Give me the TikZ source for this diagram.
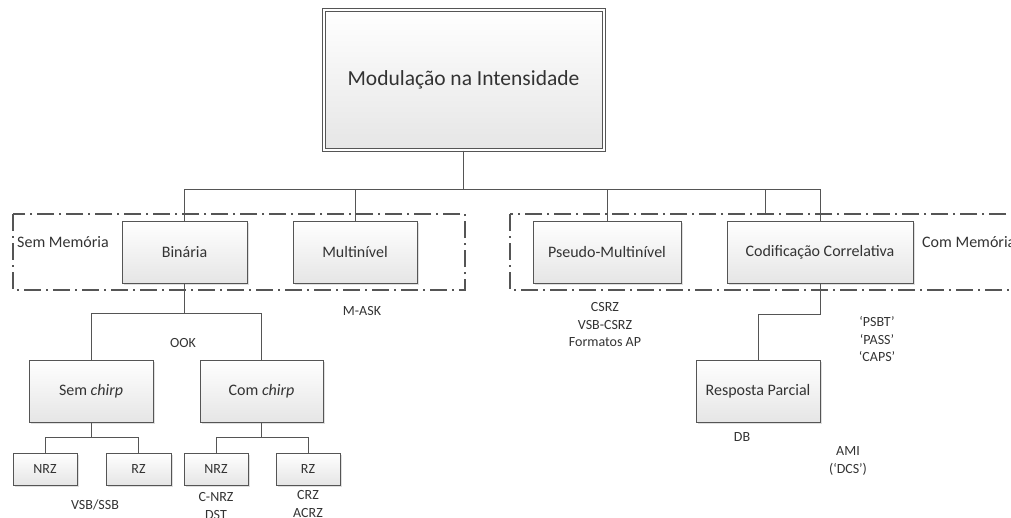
\documentclass[tikz,border=0pt]{standalone}
\usepackage{fontspec}
\setmainfont{Carlito}
\usetikzlibrary{shadows}
\definecolor{linegray}{HTML}{555555}
\definecolor{txtgray}{HTML}{333333}
\tikzset{
  caixa/.style={draw=linegray, line width=1pt, top color=white, bottom color=gray!20,
    drop shadow={shadow xshift=1.5pt, shadow yshift=-1.5pt, opacity=0.25},
    text=txtgray, inner sep=0pt, font=\fontsize{16}{19}\selectfont},
  caixinha/.style={caixa, minimum width=64pt, minimum height=32pt, font=\fontsize{14}{17}\selectfont},
  rotulo/.style={text=txtgray, inner sep=0pt, align=center, font=\fontsize{14}{17.5}\selectfont},
  ligacao/.style={draw=linegray, line width=1pt},
  moldura/.style={draw=linegray, line width=1.4pt, dash pattern=on 17pt off 5pt on 2pt off 5pt}
}

\begin{document}
\begin{tikzpicture}[x=1pt,y=-1pt]
    \useasboundingbox (0,0) rectangle (1011,517);
    % molduras com/sem memoria
    \draw[moldura] (13,214) rectangle (465,290);
    \draw[moldura] (510,214) rectangle (1030,290);
    \node[rotulo, anchor=west, font=\fontsize{16}{19}\selectfont] (semmem) at (17,242) {Sem Memória};
    \node[rotulo, anchor=west, font=\fontsize{16}{19}\selectfont] (commem) at (922,242) {Com Memória};
    % caixa principal
    \node[caixa, minimum width=280pt, minimum height=140pt, double=white, double distance=2pt,
      font=\fontsize{21.5}{25}\selectfont] (topo) at (463.5,80) {Modulação na Intensidade\\[14pt]};
    % segundo nivel
    \node[caixa, minimum width=125pt, minimum height=62pt] (bin) at (184.5,252) {Binária};
    \node[caixa, minimum width=124pt, minimum height=62pt] (mul) at (355,252) {Multinível};
    \node[caixa, minimum width=148pt, minimum height=62pt] (pse) at (607,252) {Pseudo-Multinível};
    \node[caixa, minimum width=186pt, minimum height=62pt] (cod) at (820,252) {Codificação Correlativa};
    % terceiro nivel
    \node[caixa, minimum width=124pt, minimum height=62pt] (sem) at (91,391) {Sem \textit{chirp}};
    \node[caixa, minimum width=123pt, minimum height=62pt] (com) at (261.5,391) {Com \textit{chirp}};
    \node[caixa, minimum width=124pt, minimum height=62pt] (resp) at (758,391) {Resposta Parcial};
    % formatos NRZ / RZ
    \node[caixinha] (nrza) at (45,469) {NRZ};
    \node[caixinha, minimum width=65pt] (rza) at (138.5,469) {RZ};
    \node[caixinha] (nrzb) at (216,469) {NRZ};
    \node[caixinha] (rzb) at (308,469) {RZ};
    % ligacoes
    \draw[ligacao] (topo.south) -- ++(0,39) coordinate (bartopo);
    \draw[ligacao] (bin.north) |- (bartopo) -| (cod.north);
    \draw[ligacao] (mul.north) -- (mul.north |- bartopo);
    \draw[ligacao] (pse.north) -- (pse.north |- bartopo);
    \coordinate (toco) at (765,214);
    \draw[ligacao] (toco) -- (toco |- bartopo);
    \draw[ligacao] (bin.south) -- ++(0,30) coordinate (barbin);
    \draw[ligacao] (sem.north) |- (barbin) -| (com.north);
    \draw[ligacao] (sem.south) -- ++(0,15) coordinate (barsem);
    \draw[ligacao] (nrza.north) |- (barsem) -| (rza.north);
    \draw[ligacao] (com.south) -- ++(0,15) coordinate (barcom);
    \draw[ligacao] (nrzb.north) |- (barcom) -| (rzb.north);
    \draw[ligacao] (cod.south) -- ++(0,31) -| (resp.north);
    % exemplos de formatos
    \node[rotulo] (ook) at (183,343) {OOK};
    \node[rotulo] (mask) at (362,311) {M-ASK};
    \node[rotulo] (vsb) at (95,505) {VSB/SSB};
    \node[rotulo] (cnrz) at (216,506) {C-NRZ\\DST};
    \node[rotulo] (crz) at (308,504) {CRZ\\ACRZ};
    \node[rotulo] (csrz) at (605,325) {CSRZ\\VSB-CSRZ\\Formatos AP};
    \node[rotulo] (psbt) at (877,339) {‘PSBT’\\‘PASS’\\‘CAPS’};
    \node[rotulo] (db) at (742,437) {DB};
    \node[rotulo] (ami) at (848,461) {AMI\\(‘DCS’)};
\end{tikzpicture}
\end{document}
